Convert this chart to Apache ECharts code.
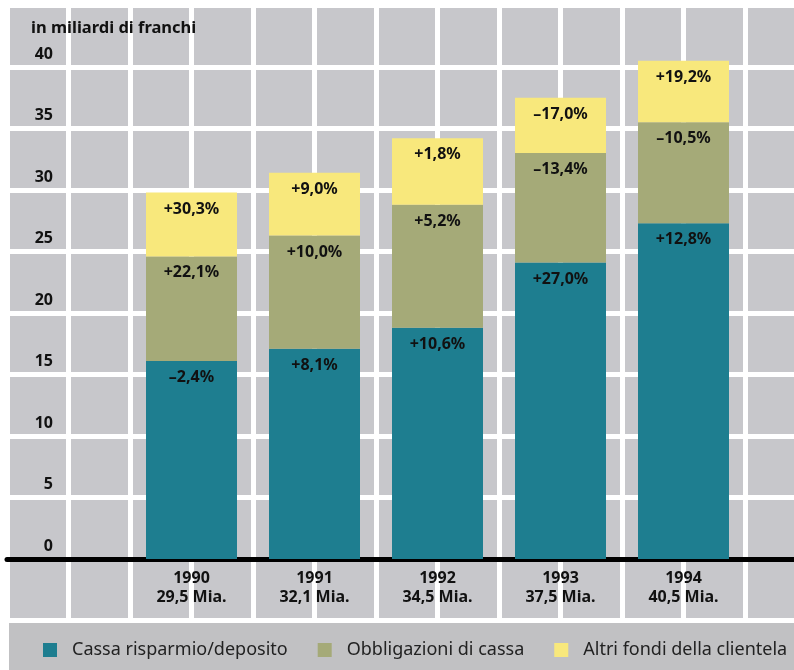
<!DOCTYPE html>
<html>
<head>
<meta charset="utf-8">
<script src="https://cdn.jsdelivr.net/npm/echarts@6/dist/echarts.min.js"></script>
<style>
html,body{margin:0;padding:0;background:#fff;}
#chart{width:794px;height:670px;}
</style>
</head>
<body>
<div id="chart"></div>
<script>
var years = ['1990', '1991', '1992', '1993', '1994'];
var totals = ['29,5', '32,1', '34,5', '37,5', '40,5'];
var seriesNames = ['Cassa risparmio/deposito', 'Obbligazioni di cassa', 'Altri fondi della clientela'];
var cassaRisparmio = [16.1, 17.1, 18.8, 24.1, 27.3];
var obbligazioni = [8.5, 9.2, 10.0, 8.9, 8.2];
var altriFondi = [5.2, 5.1, 5.4, 4.5, 5.0];
var cassaChg = ['–2,4%', '+8,1%', '+10,6%', '+27,0%', '+12,8%'];
var obbligChg = ['+22,1%', '+10,0%', '+5,2%', '–13,4%', '–10,5%'];
var altriChg = ['+30,3%', '+9,0%', '+1,8%', '–17,0%', '+19,2%'];
var yTicks = [0, 5, 10, 15, 20, 25, 30, 35, 40];

var FONT = '"Noto Sans", sans-serif';
var colors = ['#1e7e90', '#a5aa78', '#f8e87c'];

// padded category axis (empty slot on each side)
var catData = [''].concat(years.map(function (y, i) { return y + '\n' + totals[i] + ' Mia.'; })).concat(['']);
function pad(arr) { return [null].concat(arr).concat([null]); }

function makeSeries(idx, values, labels) {
  return {
    name: seriesNames[idx],
    type: 'bar',
    stack: 'tot',
    xAxisIndex: 0,
    yAxisIndex: 0,
    barWidth: 91,
    itemStyle: { color: colors[idx] },
    label: {
      show: true,
      position: 'insideTop',
      distance: 8,
      fontFamily: FONT,
      fontWeight: 'bold',
      fontSize: 16,
      lineHeight: 17,
      color: '#111',
      formatter: function (p) { return labels[p.dataIndex - 1]; }
    },
    data: pad(values)
  };
}

var chart = echarts.init(document.getElementById('chart'), null, { renderer: 'canvas' });
chart.setOption({
  backgroundColor: '#ffffff',
  animation: false,
  title: {
    text: 'in miliardi di franchi',
    left: 26,
    top: 15,
    textStyle: { fontFamily: FONT, fontWeight: 'bold', fontSize: 16.5, color: '#111' }
  },
  grid: [
    { // bars: value 0 at bottom edge
      left: 7, top: 5.5, width: 861, height: 553.5,
      outerBoundsMode: 'none', containLabel: false,
      show: false, z: 3
    },
    { // background cells
      left: 7, top: 5.5, width: 787, height: 615,
      outerBoundsMode: 'none', containLabel: false,
      show: true, backgroundColor: '#c7c7cb', borderWidth: 0, z: 0
    }
  ],
  xAxis: [
    {
      gridIndex: 0,
      type: 'category',
      data: catData,
      position: 'bottom',
      axisLine: { show: true, onZero: false, lineStyle: { color: '#000', width: 5 } },
      axisTick: { show: false },
      splitLine: { show: false },
      axisLabel: {
        margin: 10,
        interval: 0,
        fontFamily: FONT, fontWeight: 'bold', fontSize: 16, lineHeight: 19, color: '#111'
      }
    },
    {
      gridIndex: 1,
      type: 'value',
      min: 0, max: 787 / 61.5,
      interval: 1,
      axisLine: { show: false }, axisTick: { show: false }, axisLabel: { show: false },
      splitLine: { show: true, showMaxLine: false, lineStyle: { color: '#ffffff', width: 5 } }
    }
  ],
  yAxis: [
    {
      gridIndex: 0,
      type: 'value',
      min: 0, max: 45,
      show: false
    },
    {
      gridIndex: 1,
      type: 'value',
      min: -5, max: 45, interval: 5,
      axisLine: { show: false },
      axisTick: { show: false },
      splitLine: { show: true, lineStyle: { color: '#ffffff', width: 5 } },
      axisLabel: {
        inside: true,
        margin: 46,
        align: 'right',
        verticalAlign: 'bottom',
        lineHeight: 26,
        fontFamily: FONT, fontWeight: 'bold', fontSize: 16, color: '#111',
        formatter: function (v) { return yTicks.indexOf(v) >= 0 ? String(v) : ''; }
      }
    }
  ],
  legend: {
    data: seriesNames,
    left: 38,
    top: 636,
    z: 10,
    icon: 'rect',
    itemWidth: 14,
    itemHeight: 14,
    itemGap: 30,
    textStyle: { fontFamily: FONT, fontSize: 18, color: '#222', padding: [0, 0, 0, 10] }
  },
  graphic: [{
    type: 'rect', z: 0, silent: true,
    shape: { x: 9, y: 622, width: 785, height: 48 },
    style: { fill: '#c1c1c3' }
  }],
  series: [
    makeSeries(0, cassaRisparmio, cassaChg),
    makeSeries(1, obbligazioni, obbligChg),
    makeSeries(2, altriFondi, altriChg)
  ]
});
</script>
</body>
</html>
